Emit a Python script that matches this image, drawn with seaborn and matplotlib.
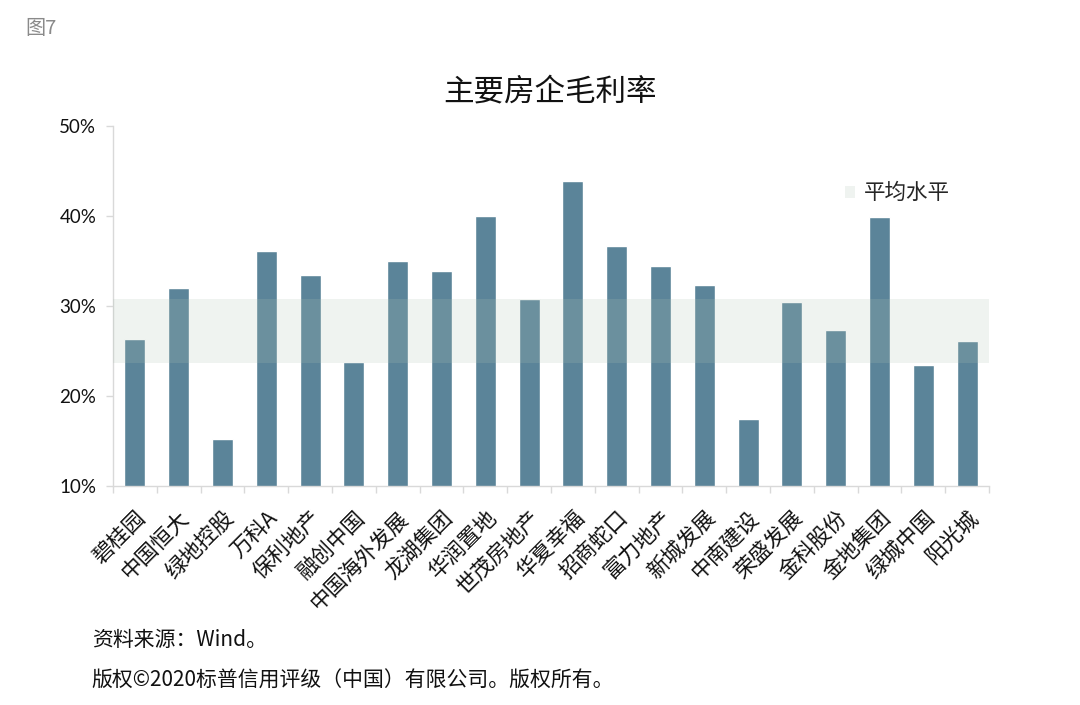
import matplotlib
matplotlib.use("Agg")
import matplotlib.pyplot as plt
import matplotlib.patches as mpatches
from matplotlib.ticker import FixedLocator, FuncFormatter
import seaborn as sns
import pandas as pd

companies = ["碧桂园", "中国恒大", "绿地控股", "万科A", "保利地产", "融创中国",
             "中国海外发展", "龙湖集团", "华润置地", "世茂房地产", "华夏幸福",
             "招商蛇口", "富力地产", "新城发展", "中南建设", "荣盛发展",
             "金科股份", "金地集团", "绿城中国", "阳光城"]
gross_margin = [26.3, 32.0, 15.2, 36.1, 33.4, 23.8, 35.0, 33.9, 40.0, 30.8,
                43.9, 36.7, 34.4, 32.3, 17.5, 30.4, 27.3, 39.9, 23.4, 26.1]
avg_band = [23.7, 30.8]
y_ticks = [10, 20, 30, 40, 50]

title = "主要房企毛利率"
legend_label = "平均水平"
fig_label = "图7"
source_note = "资料来源：Wind。"
copyright_note = "版权©2020标普信用评级（中国）有限公司。版权所有。"

sns.set_theme(style="white")
plt.rcParams["font.family"] = ["Lato", "Noto Sans CJK SC", "DejaVu Sans"]

bar_color = "#5B8499"
band_color = "#AFC4B4"
axis_color = "#D9D9D9"
cjk = ["Noto Sans CJK SC", "DejaVu Sans"]

df = pd.DataFrame({"company": companies, "margin": gross_margin})

fig = plt.figure(figsize=(10.8, 7.05), dpi=100)
ax = fig.add_axes([0.1046, 0.3106, 0.8111, 0.5107])

sns.barplot(data=df, x="company", y="margin", color=bar_color, width=0.48,
            saturation=1, ax=ax, zorder=2)

ax.axhspan(avg_band[0], avg_band[1], xmin=0, xmax=1, color=band_color,
           alpha=0.2, lw=0, zorder=3)

ax.set_ylim(10, 50)
ax.set_xlim(-0.5, len(companies) - 0.5)
ax.yaxis.set_major_locator(FixedLocator(y_ticks))
ax.yaxis.set_major_formatter(FuncFormatter(lambda v, p: f"{v:.0f}%"))
ax.set_xlabel("")
ax.set_ylabel("")

for s in ["top", "right"]:
    ax.spines[s].set_visible(False)
for s in ["left", "bottom"]:
    ax.spines[s].set_color(axis_color)
    ax.spines[s].set_linewidth(1.0)

ax.tick_params(axis="y", which="major", left=True, length=5, width=1,
               color=axis_color, labelsize=13.5, labelcolor="#111111", pad=7)
ax.set_xticks([i + 0.5 for i in range(-1, len(companies))], minor=True)
ax.tick_params(axis="x", which="minor", bottom=True, length=5, width=1,
               color=axis_color)
ax.tick_params(axis="x", which="major", bottom=False, length=0, pad=15)
ax.set_xticks(range(len(companies)))
ax.set_xticklabels(companies, rotation=45, ha="right", rotation_mode="anchor",
                   fontsize=15.5, color="#111111", family=cjk)

handle = mpatches.Patch(facecolor=band_color, alpha=0.2, edgecolor="none",
                        label=legend_label)
leg = ax.legend(handles=[handle], loc="upper left",
                bbox_to_anchor=(0.813, 0.897), frameon=False,
                prop={"family": ["Noto Sans CJK SC"], "size": 15.5},
                handlelength=0.5, handleheight=0.5, handletextpad=0.4)

fig.text(0.509, 0.8695, title, ha="center", va="center", fontsize=22,
         color="#111111", family=cjk)
fig.text(0.023, 0.96, fig_label, ha="left", va="center", fontsize=14.5,
         color="#8a8a8a", family=cjk)
fig.text(0.085, 0.092, source_note, ha="left", va="center", fontsize=15,
         color="#111111", family=cjk)
fig.text(0.085, 0.035, copyright_note, ha="left", va="center", fontsize=15,
         color="#111111", family=cjk)

fig.savefig("out.png", dpi=100, facecolor="white")
